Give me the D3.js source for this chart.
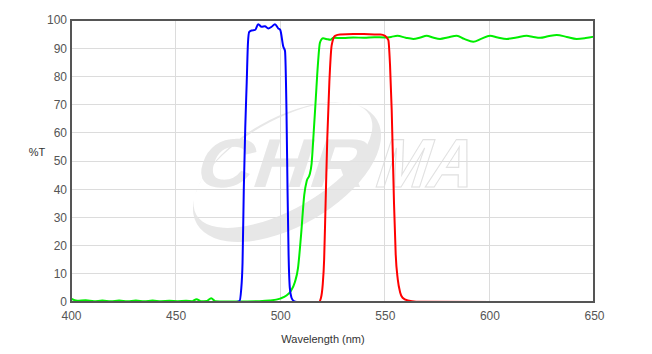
<!DOCTYPE html>
<html>
<head>
<meta charset="utf-8">
<script src="https://cdn.jsdelivr.net/npm/d3@7"></script>
<style>
  body { margin: 0; background: #fff; }
  text { font-family: Arial, "Liberation Sans", sans-serif; }
</style>
</head>
<body>
<div id="chart"></div>
<script>
// data (wavelength nm, %T)
var blueWl  = [400, 479, 480.5, 481.3, 482, 482.6, 483.3, 484, 484.6, 485.2, 486.3, 488, 489.5, 491.1, 492.7, 494.3, 495.9, 497.5, 499.1, 500, 501.5, 502.3, 503, 503.5, 504, 504.6, 505.4, 506.5, 508, 650];
var blueT   = [0, 0, 0.3, 4, 14, 40, 62, 78, 92, 95.8, 96.3, 96.5, 98.5, 97.6, 97.8, 97, 97.6, 98.5, 97, 96.5, 90.5, 89, 68, 40, 17, 5, 1.5, 0.3, 0, 0];

var greenWl = [400, 403, 407, 411, 415, 419, 423, 427, 431, 435, 439, 443, 447, 451, 455, 458, 460, 462, 465, 467, 469, 473, 480, 490, 495, 500, 503, 505, 507, 508.5, 510, 511.5, 512.7, 514, 515, 516, 517, 518, 519, 520.5, 522, 524, 525.5, 530, 535, 540, 545, 550, 553, 556, 560, 563.6, 567, 570, 573, 576.4, 580, 584.4, 588, 592.3, 596, 600.3, 604, 608.3, 613, 617.8, 621, 624.2, 628, 632.2, 637, 641.7, 646, 650];
var greenT  = [1.2, 0.4, 0.6, 0.3, 0.5, 0.3, 0.5, 0.3, 0.5, 0.3, 0.5, 0.3, 0.4, 0.3, 0.4, 0.3, 1.0, 0.3, 0.4, 1.3, 0.3, 0.2, 0.2, 0.3, 0.5, 1.2, 2.3, 3.8, 7, 12, 24, 38, 43, 45, 49, 60, 72, 84, 92, 93.5, 93.3, 93, 93.7, 93.6, 93.8, 93.7, 93.9, 93.8, 94, 94.4, 93.7, 93.3, 93.8, 94.4, 93.8, 93.3, 93.8, 94.4, 93.3, 92.3, 93.3, 94.4, 93.8, 93.3, 93.8, 94.4, 94, 93.7, 94.2, 94.7, 94, 93.3, 93.6, 94.1];

var redWl   = [400, 518.5, 519.5, 520.3, 521, 521.6, 522.5, 523.5, 524.6, 526.2, 528.6, 535, 540, 545, 548, 550.1, 551.7, 552.5, 553.3, 554.4, 555.2, 556.2, 557.3, 558.5, 561, 565, 650];
var redT    = [0, 0, 1.5, 6, 15, 32, 58, 78, 91, 94.4, 94.9, 95, 95, 94.9, 94.9, 94.4, 92.9, 84, 68, 35, 17, 8, 3.5, 1.5, 0.5, 0.1, 0];

var xTicks = [400, 450, 500, 550, 600, 650];
var yTicks = [0, 10, 20, 30, 40, 50, 60, 70, 80, 90, 100];

var W = 652, H = 354;
var margin = {top: 20, right: 58, bottom: 52, left: 71},
    width = W - margin.left - margin.right,
    height = H - margin.top - margin.bottom;

var x = d3.scaleLinear().domain([400, 650]).range([0, width]);
var y = d3.scaleLinear().domain([0, 100]).range([height, 0]);

var svg = d3.select("#chart").append("svg")
    .attr("width", W)
    .attr("height", H);
var g = svg.append("g")
    .attr("transform", "translate(" + margin.left + "," + margin.top + ")");

// grid
g.append("g")
    .selectAll("line").data(yTicks.filter(function (d) { return d > 0 && d < 100; }))
    .enter().append("line")
    .attr("x1", 0).attr("x2", width)
    .attr("y1", function (d) { return y(d); })
    .attr("y2", function (d) { return y(d); })
    .attr("stroke", "#dcdcdc").attr("stroke-width", 1)
    .attr("shape-rendering", "crispEdges");
g.append("g")
    .selectAll("line").data(xTicks.filter(function (d) { return d > 400 && d < 650; }))
    .enter().append("line")
    .attr("y1", 0).attr("y2", height)
    .attr("x1", function (d) { return x(d); })
    .attr("x2", function (d) { return x(d); })
    .attr("stroke", "#dcdcdc").attr("stroke-width", 1)
    .attr("shape-rendering", "crispEdges");

// watermark
var wm = g.append("g").attr("opacity", 0.85);
var cx = 287 - margin.left, cy = 172 - margin.top;
var outer = "M" + (-104) + ",0 A104,54 0 1,0 104,0 A104,54 0 1,0 -104,0 Z";
var inner = "M" + (-100) + ",-8 A100,44 0 1,0 100,-8 A100,44 0 1,0 -100,-8 Z";
wm.append("path")
    .attr("d", outer + " " + inner)
    .attr("fill-rule", "evenodd")
    .attr("fill", "#e3e3e3")
    .attr("transform", "translate(" + cx + "," + cy + ") rotate(-30)");
wm.append("text")
    .attr("transform", "translate(" + (192 - margin.left) + "," + (187 - margin.top) + ") skewX(-18) scale(1.12,1)")
    .attr("font-size", 69)
    .attr("font-weight", "bold")
    .attr("letter-spacing", 1)
    .attr("fill", "#e3e3e3")
    .text("CHR");
wm.append("text")
    .attr("transform", "translate(" + (372 - margin.left) + "," + (187 - margin.top) + ") skewX(-18) scale(0.9,1)")
    .attr("font-size", 69)
    .attr("font-weight", "bold")
    .attr("fill", "none")
    .attr("stroke", "#dcdcdc")
    .attr("stroke-width", 1.2)
    .text("MA");

// lines
var line = d3.line()
    .x(function (d) { return x(d[0]); })
    .y(function (d) { return y(d[1]); })
    .curve(d3.curveMonotoneX);

function pairs(a, b) {
    return a.map(function (v, i) { return [v, b[i]]; });
}

var series = [
    {pts: pairs(greenWl, greenT), color: "#00ee00"},
    {pts: pairs(blueWl, blueT), color: "#0000ff"},
    {pts: pairs(redWl, redT), color: "#ff0000"}
];
series.forEach(function (s) {
    g.append("path")
        .datum(s.pts)
        .attr("fill", "none")
        .attr("stroke", s.color)
        .attr("stroke-width", 2)
        .attr("stroke-linejoin", "round")
        .attr("d", line);
});

// frame
g.append("rect")
    .attr("x", 0).attr("y", 0)
    .attr("width", width).attr("height", height)
    .attr("fill", "none")
    .attr("stroke", "#555")
    .attr("stroke-width", 2);

// axes labels
var yAxis = g.append("g").call(d3.axisLeft(y).tickValues(yTicks).tickSize(0).tickPadding(4));
var xAxis = g.append("g").attr("transform", "translate(0," + height + ")")
    .call(d3.axisBottom(x).tickValues(xTicks).tickSize(0).tickPadding(9));
[yAxis, xAxis].forEach(function (a) {
    a.select(".domain").remove();
    a.selectAll("text")
        .attr("font-size", 12)
        .attr("font-family", "Arial, 'Liberation Sans', sans-serif")
        .attr("fill", "#555");
});

svg.append("text")
    .attr("x", 37).attr("y", 156)
    .attr("text-anchor", "middle")
    .attr("font-size", 11)
    .attr("fill", "#333")
    .text("%T");

svg.append("text")
    .attr("x", 323).attr("y", 343)
    .attr("text-anchor", "middle")
    .attr("font-size", 11)
    .attr("fill", "#333")
    .text("Wavelength (nm)");
</script>
</body>
</html>
